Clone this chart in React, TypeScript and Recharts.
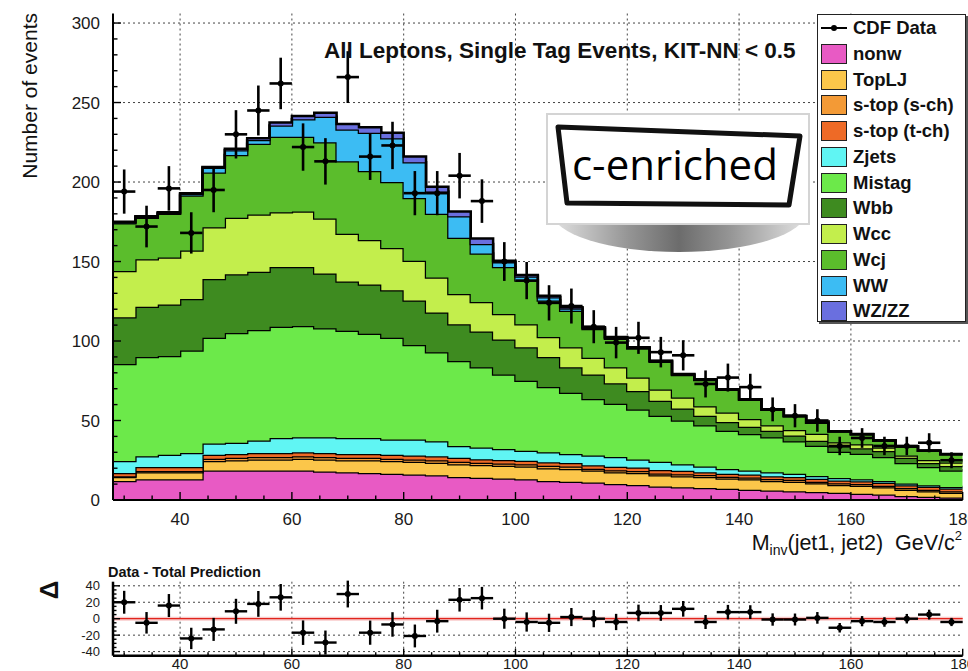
import React from 'react';
import { ComposedChart, Area, Scatter, ErrorBar, XAxis, YAxis, CartesianGrid, ReferenceLine } from 'recharts';

// M_inv(jet1, jet2) histogram, 4 GeV bins from 28 to 180
const BIN_WIDTH = 4;
const BIN_CENTERS = [30, 34, 38, 42, 46, 50, 54, 58, 62, 66, 70, 74, 78, 82, 86, 90, 94, 98, 102, 106, 110, 114, 118, 122, 126, 130, 134, 138, 142, 146, 150, 154, 158, 162, 166, 170, 174, 178];

// stacked MC templates, bottom to top
const NONW = [12, 13, 13, 13, 18.5, 18.5, 18.5, 18.5, 18.5, 18, 17.5, 17, 16.5, 16, 15.5, 14.5, 14, 13.5, 13, 12, 11.5, 11, 10, 9.5, 8.5, 8, 7.5, 7, 6.5, 6, 5.5, 5, 4.5, 4, 3.5, 2.5, 2, 1.5];
const TOPLJ = [2.5, 4.5, 4.5, 4.5, 6, 6.5, 7, 7, 7.5, 7.5, 7.5, 8, 8, 8, 8, 8, 8, 8, 8, 8, 8, 7.5, 7.5, 7.5, 7, 7, 7, 6.5, 6.5, 6, 6, 5.5, 5, 5, 4.5, 4, 3.5, 3];
const STOP_S = [0.5, 0.8, 0.8, 0.8, 1.5, 1.5, 1.5, 1.5, 1.5, 1.5, 1.5, 1.5, 1.5, 1.5, 1.5, 1.5, 1.5, 1.5, 1.5, 1.5, 1.5, 1.2, 1.2, 1.2, 1.2, 1.2, 1.2, 1.2, 1.2, 1.2, 1.2, 1, 1, 1, 1, 1, 1, 1];
const STOP_T = [2, 2.5, 2.5, 2.5, 2.5, 2.5, 2.5, 2.5, 2.5, 2.5, 2.5, 2.5, 2.5, 2.5, 2.5, 2.5, 2.2, 2.2, 2.2, 2.2, 2.2, 2.2, 2.2, 2.2, 2.2, 2.2, 1.8, 1.8, 1.8, 1.8, 1.8, 1.8, 1.8, 1.8, 1.8, 1.8, 1.8, 1.8];
const ZJETS = [7.5, 6.7, 7.7, 8.7, 7, 7, 8, 9.5, 9.5, 10, 10, 10, 9.5, 10, 9.5, 7.5, 7.3, 6.8, 6.3, 6.3, 5.8, 6.1, 6.1, 5.1, 5.1, 4.1, 3.5, 3, 2.5, 2.5, 2, 1.8, 1.5, 1.3, 1.2, 1, 0.9, 0.8];
const MISTAG = [61, 62.5, 62, 64.5, 66.5, 69, 69.5, 70, 70, 68.5, 67.5, 65.5, 64, 59.5, 56, 53.5, 50.5, 47, 44, 41, 38.5, 35.5, 33.5, 31.5, 29, 27.5, 26, 24, 23, 22, 20.5, 19, 16.5, 16, 15, 13, 11.5, 10.5];
const WBB = [29.5, 31.5, 32.5, 32.5, 37, 37, 36.5, 37.5, 37, 34.5, 31, 31, 30, 28, 25, 23, 22.5, 22, 21, 19, 16, 15.5, 13, 11.5, 9.5, 7.5, 6, 5.5, 4.5, 4, 3.5, 3.2, 3.5, 3.5, 3.8, 3.2, 2.5, 2.8];
const WCC = [29, 30, 29.5, 30.5, 32.5, 35.5, 36, 34.5, 35, 34.5, 30, 28, 26.5, 25, 22, 19, 18.5, 16, 14.5, 12.5, 12.5, 10.5, 10, 8.5, 7, 7, 6, 6, 5, 3.5, 3.5, 4.3, 2.5, 2.5, 2.2, 1.5, 2, 2.2];
const WCJ = [30, 26, 27.5, 34.5, 34.5, 39.5, 44.5, 47.5, 47, 48, 45.5, 43.5, 41.5, 39.5, 40, 35.5, 30.5, 29.5, 27.5, 23, 23, 18, 18, 18.3, 17.5, 14.2, 16.5, 14.3, 12, 9.8, 8.6, 7, 6.8, 6.2, 4.4, 5.6, 5.7, 5.1];
const WW = [0.5, 0.5, 0.5, 1, 3, 3, 2.5, 7, 11, 16, 20, 24, 27.5, 22.5, 14, 13.5, 6, 3, 2.5, 2, 1.5, 0.7, 0.5, 0.5, 0.4, 0.3, 0.3, 0.3, 0.3, 0.2, 0.2, 0.1, 0.1, 0.1, 0.1, 0.1, 0.1, 0.1];
const WZZZ = [0.5, 0.5, 0.5, 0.5, 0.5, 1, 1, 2, 2, 2.5, 3.5, 3.5, 3.5, 3.5, 3, 3, 3.5, 1, 1, 1, 0.7, 0.4, 0.5, 0.2, 0.2, 0.2, 0.2, 0.1, 0.1, 0.1, 0.1, 0.1, 0.1, 0.1, 0.1, 0.1, 0.1, 0.1];

// CDF data and its errors
const DATA = [194, 172, 196, 168, 195, 230, 245, 262, 222, 213, 266, 216, 223, 193, 193, 204, 188, 150, 138, 124, 122, 109, 99, 102, 93, 91, 73, 77, 71, 57, 53, 50, 34, 39, 34, 34, 36, 25];
const DATA_ERR = [13.9, 13.1, 14, 13, 14, 15.2, 15.7, 16.2, 14.9, 14.6, 16.3, 14.7, 14.9, 13.9, 13.9, 14.3, 13.7, 12.2, 11.7, 11.1, 11, 10.4, 9.9, 10.1, 9.6, 9.5, 8.5, 8.8, 8.4, 7.5, 7.3, 7.1, 5.8, 6.2, 5.8, 5.8, 6, 5];

// Data - Total Prediction
const RESID = [20, -5, 16, -24, -13, 9, 18, 26, -17, -29, 30, -17, -7, -21, -3, 23, 25, 0, -4, -5, 2, 0, -4, 7, 7, 12, -4, 8, 8, -1, -1, 1, -11, -3, -4, 0, 5, -4];

const X_TICKS = [30, 35, 40, 45, 50, 55, 60, 65, 70, 75, 80, 85, 90, 95, 100, 105, 110, 115, 120, 125, 130, 135, 140, 145, 150, 155, 160, 165, 170, 175, 180];
const Y_TICKS = [0, 10, 20, 30, 40, 50, 60, 70, 80, 90, 100, 110, 120, 130, 140, 150, 160, 170, 180, 190, 200, 210, 220, 230, 240, 250, 260, 270, 280, 290, 300];
const RES_Y_TICKS = [-40, -35, -30, -25, -20, -15, -10, -5, 0, 5, 10, 15, 20, 25, 30, 35, 40];
const GRID_X = [40, 60, 80, 100, 120, 140, 160];
const GRID_Y = [50, 100, 150, 200, 250, 300];
const RES_GRID_Y = [-40, -20, 20, 40];

const SERIES = [
  { key: 'nonw', label: 'nonw', color: '#e85ac4', values: NONW },
  { key: 'toplj', label: 'TopLJ', color: '#fbc64a', values: TOPLJ },
  { key: 'stops', label: 's-top (s-ch)', color: '#f39a36', values: STOP_S },
  { key: 'stopt', label: 's-top (t-ch)', color: '#ee6a26', values: STOP_T },
  { key: 'zjets', label: 'Zjets', color: '#60f5f3', values: ZJETS },
  { key: 'mistag', label: 'Mistag', color: '#6ce94a', values: MISTAG },
  { key: 'wbb', label: 'Wbb', color: '#3e8b20', values: WBB },
  { key: 'wcc', label: 'Wcc', color: '#c3ee4c', values: WCC },
  { key: 'wcj', label: 'Wcj', color: '#5bbd2c', values: WCJ },
  { key: 'ww', label: 'WW', color: '#3cbcf3', values: WW },
  { key: 'wzzz', label: 'WZ/ZZ', color: '#6a6fdf', values: WZZZ },
];

// step rows at bin low edges, plus the closing edge
const HIST_ROWS = BIN_CENTERS.map((c, i) => {
  const row: Record<string, number> = { x: c - BIN_WIDTH / 2 };
  SERIES.forEach((s) => { row[s.key] = s.values[i]; });
  return row;
});
HIST_ROWS.push({ ...HIST_ROWS[HIST_ROWS.length - 1], x: BIN_CENTERS[BIN_CENTERS.length - 1] + BIN_WIDTH / 2 });

const POINTS = BIN_CENTERS.map((c, i) => ({ x: c, y: DATA[i], err: DATA_ERR[i], xerr: BIN_WIDTH / 2 }));
const RES_POINTS = BIN_CENTERS.map((c, i) => ({ x: c, y: RESID[i], err: DATA_ERR[i], xerr: BIN_WIDTH / 2 }));

const FONT = '"Liberation Sans", Arial, Helvetica, sans-serif';
const frame = { stroke: '#000', strokeWidth: 2 };

const bottomTick = (majorStep: number, majorLen: number, minorLen: number, fontSize: number, labelY: number) => (p: any) => {
  const v = p.payload.value;
  const major = v % majorStep === 0;
  return (
    <g>
      <line x1={p.x} x2={p.x} y1={p.y} y2={p.y - (major ? majorLen : minorLen)} stroke="#000" strokeWidth={1.4} />
      {major && (
        <text x={p.x} y={p.y + labelY} textAnchor="middle" fontSize={fontSize} fontFamily={FONT} fill="#1a1a1a">{v}</text>
      )}
    </g>
  );
};

const leftTick = (majorStep: number, majorLen: number, minorLen: number, fontSize: number, gap: number) => (p: any) => {
  const v = p.payload.value;
  const major = v % majorStep === 0;
  return (
    <g>
      <line x1={p.x} x2={p.x + (major ? majorLen : minorLen)} y1={p.y} y2={p.y} stroke="#000" strokeWidth={1.4} />
      {major && (
        <text x={p.x - gap} y={p.y} dy="0.36em" textAnchor="end" fontSize={fontSize} fontFamily={FONT} fill="#1a1a1a">{v}</text>
      )}
    </g>
  );
};

const dot = (p: any) => <circle cx={p.cx} cy={p.cy} r={3} fill="#000" />;

const Legend = () => (
  <div style={{ position: 'absolute', left: 817, top: 13.5, width: 149, height: 308, background: '#fff', border: '1.5px solid #222', boxShadow: '2px 2px 0 #555', boxSizing: 'border-box', fontFamily: FONT, fontWeight: 700, fontSize: 18.5, color: '#111' }}>
    {[{ key: 'data', label: 'CDF Data', color: '' }, ...SERIES].map((s, i) => {
      const cy = 13.5 + i * 25.75;
      return (
        <div key={s.key} style={{ position: 'absolute', left: 3, top: cy - 12, height: 24, display: 'flex', alignItems: 'center', whiteSpace: 'nowrap' }}>
          {s.key === 'data' ? (
            <svg width={26} height={20}>
              <line x1={0} x2={26} y1={10} y2={10} stroke="#000" strokeWidth={2} />
              <circle cx={13} cy={10} r={3} fill="#000" />
            </svg>
          ) : (
            <div style={{ width: 26, height: 20, background: s.color, border: '1.5px solid #222', boxSizing: 'border-box' }} />
          )}
          <span style={{ marginLeft: 6 }}>{s.label}</span>
        </div>
      );
    })}
  </div>
);

export default function App() {
  return (
    <div style={{ position: 'fixed', left: 0, top: 0, width: 968, height: 671, overflow: 'hidden', background: '#fff' }}>
      <div style={{ position: 'absolute', left: 0, top: 0 }}>
        <ComposedChart width={968} height={560} data={HIST_ROWS} margin={{ top: 13.5, right: 5.3, bottom: 0, left: 0 }}>
          <CartesianGrid stroke="#444" strokeDasharray="2 3" verticalValues={GRID_X} horizontalValues={GRID_Y} />
          <XAxis dataKey="x" type="number" domain={[28, 180]} ticks={X_TICKS} interval={0} height={60} tickSize={0} tickMargin={0} tickLine={false} axisLine={frame} tick={bottomTick(20, 8, 4.5, 17, 25)} allowDataOverflow />
          <XAxis xAxisId="top" orientation="top" type="number" domain={[28, 180]} height={0} tick={false} tickLine={false} axisLine={frame} allowDataOverflow />
          <YAxis type="number" domain={[0, 306]} ticks={Y_TICKS} interval={0} width={113} tickSize={0} tickMargin={0} tickLine={false} axisLine={frame} tick={leftTick(50, 8, 4.5, 17, 13)} allowDataOverflow />
          <YAxis yAxisId="right" orientation="right" type="number" domain={[0, 306]} width={0} tick={false} tickLine={false} axisLine={frame} allowDataOverflow />
          {SERIES.map((s) => (
            <Area key={s.key} type="stepAfter" dataKey={s.key} stackId="mc" fill={s.color} fillOpacity={1} stroke="#000" strokeWidth={2.5} dot={false} activeDot={false} isAnimationActive={false} />
          ))}
          <Scatter data={POINTS} dataKey="y" fill="#000" shape={dot} isAnimationActive={false}>
            <ErrorBar dataKey="err" direction="y" width={0} stroke="#000" strokeWidth={2.6} isAnimationActive={false} />
            <ErrorBar dataKey="xerr" direction="x" width={0} stroke="#000" strokeWidth={2.6} isAnimationActive={false} />
          </Scatter>
        </ComposedChart>
      </div>

      <div style={{ position: 'absolute', left: 0, top: 560 }}>
        <ComposedChart width={968} height={111} margin={{ top: 21.7, right: 5.3, bottom: 0, left: 0 }}>
          <CartesianGrid stroke="#444" strokeDasharray="2 3" verticalValues={GRID_X} horizontalValues={RES_GRID_Y} />
          <XAxis dataKey="x" type="number" domain={[28, 180]} ticks={X_TICKS} interval={0} height={15.3} tickSize={0} tickMargin={0} tickLine={false} axisLine={{ stroke: '#000', strokeWidth: 2.5 }} tick={bottomTick(20, 7, 3.5, 15, 13.7)} allowDataOverflow />
          <XAxis xAxisId="top" orientation="top" type="number" domain={[28, 180]} height={0} tick={false} tickLine={false} axisLine={{ stroke: '#000', strokeWidth: 2.5 }} allowDataOverflow />
          <YAxis type="number" domain={[-45, 45]} ticks={RES_Y_TICKS} interval={0} width={113} tickSize={0} tickMargin={0} tickLine={false} axisLine={{ stroke: '#000', strokeWidth: 2.5 }} tick={leftTick(20, 7, 3.5, 13, 13)} allowDataOverflow />
          <YAxis yAxisId="right" orientation="right" type="number" domain={[-45, 45]} width={0} tick={false} tickLine={false} axisLine={{ stroke: '#000', strokeWidth: 2.5 }} allowDataOverflow />
          <ReferenceLine y={0} stroke="#f08a8a" strokeWidth={4} strokeOpacity={0.45} />
          <ReferenceLine y={0} stroke="#e0241c" strokeWidth={1.2} />
          <Scatter data={RES_POINTS} dataKey="y" fill="#000" shape={dot} isAnimationActive={false}>
            <ErrorBar dataKey="err" direction="y" width={0} stroke="#000" strokeWidth={2.4} isAnimationActive={false} />
            <ErrorBar dataKey="xerr" direction="x" width={0} stroke="#000" strokeWidth={2.4} isAnimationActive={false} />
          </Scatter>
        </ComposedChart>
      </div>

      <svg width={968} height={671} style={{ position: 'absolute', left: 0, top: 0, pointerEvents: 'none' }}>
        <defs>
          <linearGradient id="shade" x1="0" x2="1" y1="0" y2="0">
            <stop offset="0" stopColor="#e2e2e2" />
            <stop offset="0.3" stopColor="#959595" />
            <stop offset="0.5" stopColor="#6c6c6c" />
            <stop offset="0.7" stopColor="#959595" />
            <stop offset="1" stopColor="#e2e2e2" />
          </linearGradient>
        </defs>
        <text x={324} y={58.3} fontFamily={FONT} fontWeight={700} fontSize={22.5} fill="#111">All Leptons, Single Tag Events, KIT-NN &lt; 0.5</text>

        <path d="M 552 212 L 806 212 A 127 40 0 0 1 552 212 Z" fill="url(#shade)" />
        <rect x={547} y={114} width={262} height={110} fill="#fff" stroke="#d4d4d4" strokeWidth={2} />
        <polygon points="558,127 800,136 789,205 567,203" fill="#fff" stroke="#111" strokeWidth={5} strokeLinejoin="round" />
        <text x={572} y={180} fontFamily='"Open Sans", sans-serif' fontSize={42} fill="#000">c-enriched</text>

        <text x={37} y={13} transform="rotate(-90 37 13)" textAnchor="end" fontFamily={FONT} fontSize={21} fill="#111">Number of events</text>
        <text x={962} y={550} textAnchor="end" fontFamily={FONT} fontSize={21.5} fill="#111" style={{ whiteSpace: 'pre' }}>
          M<tspan fontSize={14} dy={5}>inv</tspan><tspan dy={-5}>(jet1, jet2)  GeV/c</tspan><tspan fontSize={13} dy={-10}>2</tspan>
        </text>

        <text x={108} y={577} fontFamily={FONT} fontWeight={700} fontSize={14.5} fill="#111">Data - Total Prediction</text>
        <text transform="translate(49 590) rotate(-90)" textAnchor="middle" dominantBaseline="central" fontFamily={FONT} fontWeight={700} fontSize={26} fill="#111">Δ</text>
      </svg>

      <Legend />
    </div>
  );
}
